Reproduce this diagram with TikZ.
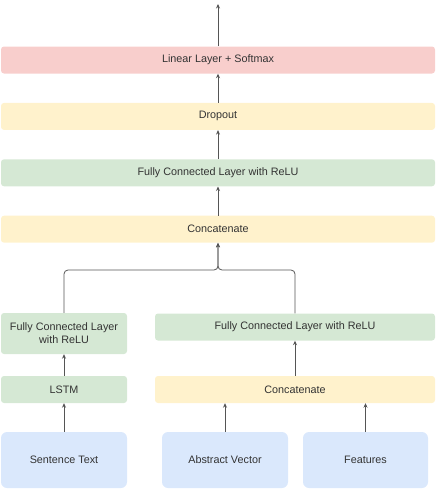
\documentclass[tikz,border=0pt]{standalone}
\usepackage{fontspec}
\setmainfont{Liberation Sans}
\usepackage{xcolor}
\usetikzlibrary{positioning,arrows.meta}

\definecolor{redfill}{HTML}{F8CECC}
\definecolor{yellowfill}{HTML}{FFF2CC}
\definecolor{greenfill}{HTML}{D5E8D4}
\definecolor{bluefill}{HTML}{DAE8FC}
\definecolor{txt}{HTML}{333333}
\definecolor{wire}{HTML}{555555}

\tikzset{
  layer/.style={rounded corners=3pt, minimum height=27pt, inner sep=0pt,
    text=txt, font=\fontsize{10.8}{13}\selectfont, align=center},
  wide/.style={layer, minimum width=434pt},
  half/.style={layer, minimum width=280pt},
  narrow/.style={layer, minimum width=126pt},
  inputbox/.style={layer, rounded corners=6pt, minimum width=126pt, minimum height=56pt, fill=bluefill},
}

\begin{document}
\begin{tikzpicture}[x=1pt, y=-1pt, ->, >={Stealth[length=4.5pt,width=4pt]}, node distance=29pt]
		\useasboundingbox (0,0) rectangle (439,491);

		\node[wide, fill=redfill] (lin) at (218,60) {Linear Layer + Softmax};
		\node[wide, fill=yellowfill, below=of lin] (drop) {Dropout};
		\node[wide, fill=greenfill, below=of drop] (fc) {Fully Connected Layer with ReLU};
		\node[wide, fill=yellowfill, below=of fc] (cat) {Concatenate};

		\node[narrow, fill=greenfill, minimum height=41pt] (lfc) at (64,333.5) {Fully Connected Layer\\with ReLU};
		\node[half, fill=greenfill] (rfc) at (295,327) {Fully Connected Layer with ReLU};
		\node[narrow, fill=greenfill] (lstm) at (64,389.5) {LSTM};
		\node[half, fill=yellowfill] (rcat) at (295,389.5) {Concatenate};

		\node[inputbox] (sent) at (64,460) {Sentence Text};
		\node[inputbox] (abs) at (225,460) {Abstract Vector};
		\node[inputbox, minimum width=125pt] (feat) at (365.5,460) {Features};

		\coordinate (out) at (218,4);
		\coordinate (join) at (218,270);

		\begin{scope}[draw=wire, line width=0.8pt]
			\draw (lin) -- (out);
			\draw (drop) -- (lin);
			\draw (fc) -- (drop);
			\draw (cat) -- (fc);
			\draw[rounded corners=4pt] (lfc.north) |- (join) -- (cat.south);
			\draw[rounded corners=4pt] (rfc.north) |- (join) -- (cat.south);
			\draw (lstm) -- (lfc);
			\draw (rcat) -- (rfc);
			\draw (sent) -- (lstm);
			\draw (abs.north) -- (abs.north |- rcat.south);
			\draw (feat.north) -- (feat.north |- rcat.south);
		\end{scope}
	\end{tikzpicture}
\end{document}
